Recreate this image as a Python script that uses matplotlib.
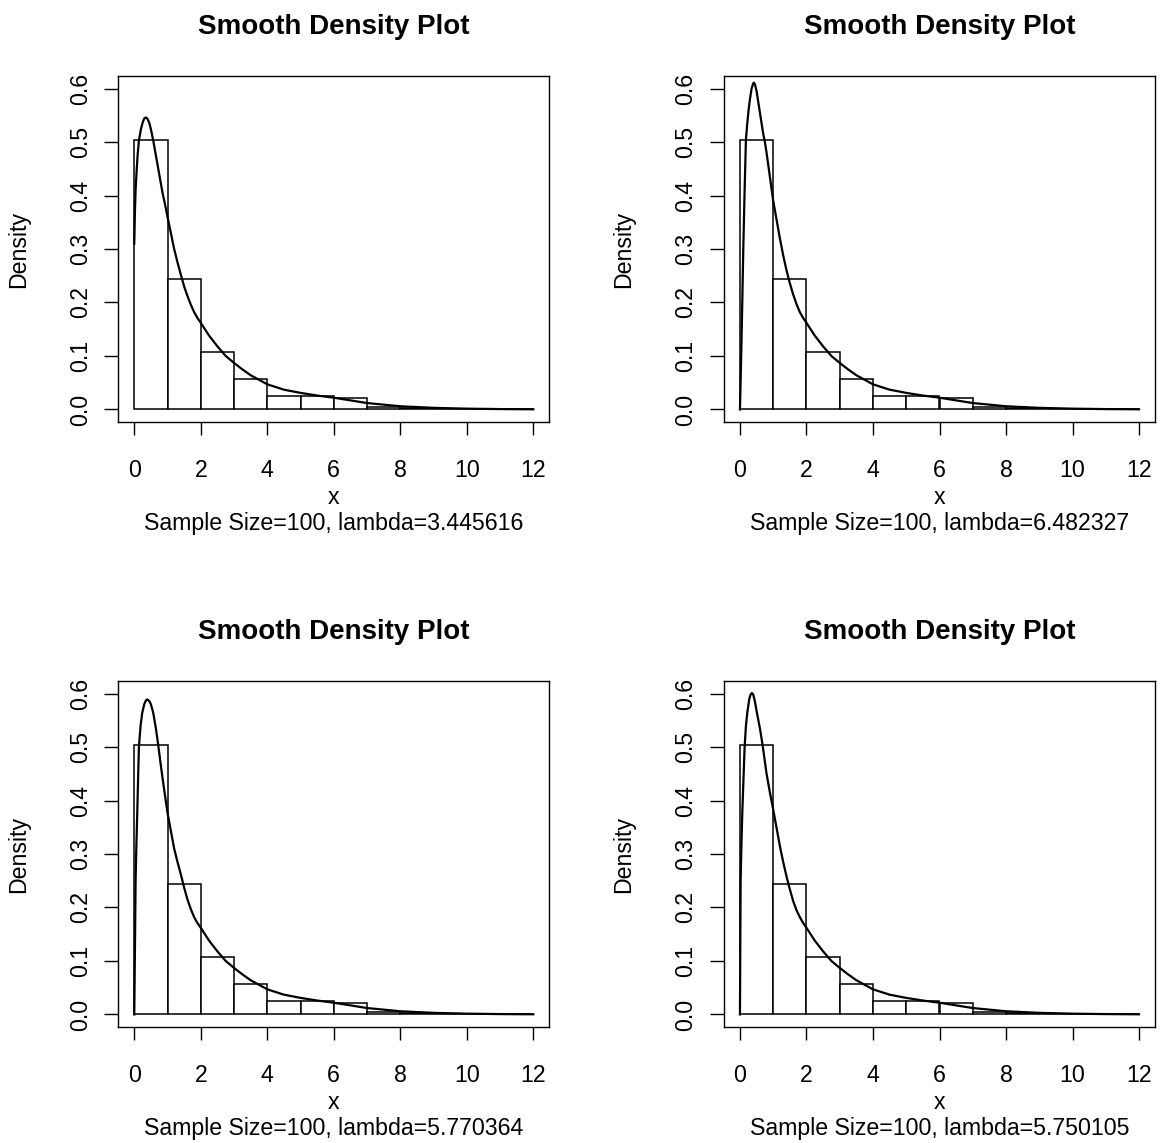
import matplotlib
matplotlib.use("Agg")
import matplotlib.pyplot as plt

plt.rcParams['font.family'] = ['Liberation Sans', 'DejaVu Sans']

# ---- data ----
bin_edges = [0, 1, 2, 3, 4, 5, 6, 7, 8, 9, 10, 11, 12]
hist_density = [0.503, 0.243, 0.107, 0.057, 0.026, 0.026, 0.022, 0.004, 0.002, 0.001, 0.001, 0.001]

lambdas = ["3.445616", "6.482327", "5.770364", "5.750105"]
sample_size = 100

tail_x = [1.2, 1.3, 1.4, 1.5, 1.6, 1.7, 1.8, 1.9, 2.0, 2.25, 2.5, 2.75, 3.0, 3.25, 3.5, 4.0, 4.5, 5.0, 5.5, 6.0, 6.5, 7.0, 7.5, 8.0, 9.0, 10.0, 11.0, 12.0]
tail_common = [0.182, 0.171, 0.162, 0.138, 0.118, 0.100, 0.087, 0.075, 0.064, 0.047, 0.037, 0.031, 0.026, 0.022, 0.017, 0.012, 0.009, 0.006, 0.003, 0.0015, 0.0007, 0.0003]

curve1_x = [0, 0.02, 0.04, 0.07, 0.1, 0.14, 0.2, 0.25, 0.3, 0.35, 0.4, 0.45, 0.5, 0.57, 0.65, 0.75, 0.85, 0.92, 1.0] + tail_x
curve1_y = [0.31, 0.37, 0.41, 0.445, 0.475, 0.503, 0.524, 0.536, 0.544, 0.546, 0.543, 0.536, 0.524, 0.503, 0.475, 0.44, 0.405, 0.385, 0.36,
            0.30, 0.275, 0.252, 0.23, 0.212, 0.196] + tail_common

curve2_x = [0, 0.03, 0.06, 0.1, 0.14, 0.18, 0.22, 0.26, 0.3, 0.35, 0.4, 0.42, 0.45, 0.5, 0.55, 0.6, 0.65, 0.7, 0.75, 0.8, 0.9, 1.0] + tail_x
curve2_y = [0.0, 0.08, 0.17, 0.30, 0.41, 0.505, 0.535, 0.56, 0.58, 0.60, 0.610, 0.611, 0.608, 0.595, 0.575, 0.555, 0.535, 0.515, 0.50, 0.48, 0.435, 0.39,
            0.32, 0.288, 0.26, 0.236, 0.215, 0.197] + tail_common

curve3_x = [0, 0.02, 0.04, 0.065, 0.09, 0.115, 0.14, 0.19, 0.24, 0.3, 0.35, 0.39, 0.45, 0.5, 0.57, 0.65, 0.72, 0.8, 0.9, 1.0] + tail_x
curve3_y = [0.0, 0.12, 0.25, 0.32, 0.377, 0.44, 0.50, 0.54, 0.564, 0.58, 0.587, 0.589, 0.586, 0.58, 0.564, 0.535, 0.504, 0.465, 0.42, 0.377,
            0.31, 0.285, 0.262, 0.237, 0.215, 0.197] + tail_common

curve4_x = [0, 0.01, 0.02, 0.045, 0.07, 0.1, 0.14, 0.18, 0.22, 0.28, 0.32, 0.36, 0.4, 0.45, 0.51, 0.6, 0.68, 0.8, 0.9, 1.0] + tail_x
curve4_y = [0.0, 0.13, 0.25, 0.32, 0.377, 0.43, 0.50, 0.54, 0.564, 0.59, 0.598, 0.601, 0.598, 0.585, 0.564, 0.535, 0.504, 0.45, 0.415, 0.383,
            0.315, 0.285, 0.258, 0.234, 0.212, 0.195] + tail_common

curves = [(curve1_x, curve1_y), (curve2_x, curve2_y), (curve3_x, curve3_y), (curve4_x, curve4_y)]

x_ticks = [0, 2, 4, 6, 8, 10, 12]
y_ticks = [0.0, 0.1, 0.2, 0.3, 0.4, 0.5, 0.6]
y_ticklabels = ["0.0", "0.1", "0.2", "0.3", "0.4", "0.5", "0.6"]

# ---- layout ----
W, H = 1165, 1143
fig = plt.figure(figsize=(W / 100, H / 100), dpi=100)

boxes = [(118.3, 75.7), (724.0, 75.7), (118.3, 680.7), (724.0, 680.7)]
bw, bh = 431.0, 346.6

widths = [b - a for a, b in zip(bin_edges[:-1], bin_edges[1:])]
FS = 16.7

for i, (bx, by) in enumerate(boxes):
    ax = fig.add_axes([bx / W, 1 - (by + bh) / H, bw / W, bh / H])
    ax.bar(bin_edges[:-1], hist_density, width=widths, align='edge',
           facecolor='white', edgecolor='black', linewidth=1.1)
    cx, cy = curves[i]
    ax.plot(cx, cy, color='black', linewidth=1.6)
    ax.set_xlim(-0.48, 12.48)
    ax.set_ylim(-0.024, 0.624)
    for s in ax.spines.values():
        s.set_linewidth(1.0)
        s.set_color('black')
    ax.set_xticks(x_ticks)
    ax.set_xticklabels([str(t) for t in x_ticks])
    ax.set_yticks(y_ticks)
    ax.set_yticklabels(y_ticklabels, rotation=90, va='center')
    ax.tick_params(axis='x', direction='out', length=9.6, width=1.0, pad=16.5, labelsize=FS)
    ax.tick_params(axis='y', direction='out', length=10, width=1.0, pad=9, labelsize=FS)
    ax.annotate("Smooth Density Plot", xy=(0.5, 1), xycoords='axes fraction',
                xytext=(0, 35), textcoords='offset points', ha='center', va='center',
                fontsize=20, fontweight='bold')
    ax.annotate("x", xy=(0.5, 0), xycoords='axes fraction',
                xytext=(0, -54.5), textcoords='offset points', ha='center', va='center',
                fontsize=FS)
    ax.annotate(f"Sample Size={sample_size}, lambda={lambdas[i]}", xy=(0.5, 0), xycoords='axes fraction',
                xytext=(0, -73), textcoords='offset points', ha='center', va='center',
                fontsize=FS)
    ax.annotate("Density", xy=(0, 0.5), xycoords='axes fraction',
                xytext=(-72, 0), textcoords='offset points', ha='center', va='center',
                rotation=90, fontsize=FS)

fig.savefig("out.png", dpi=100)
